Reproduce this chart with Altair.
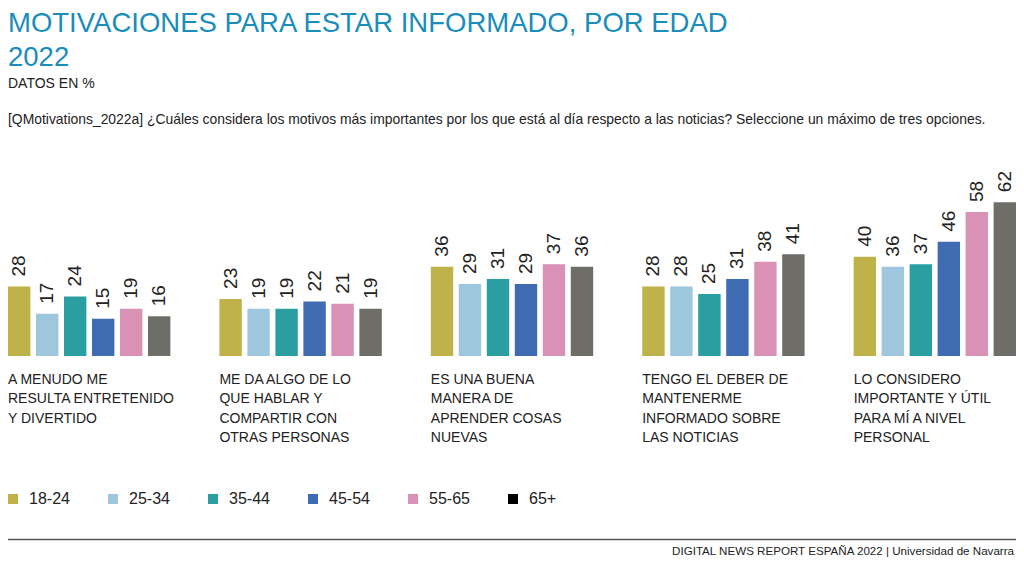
import altair as alt
import pandas as pd

TITLE_1 = "MOTIVACIONES PARA ESTAR INFORMADO, POR EDAD"
TITLE_2 = "2022"
UNITS = "DATOS EN %"
QUESTION = ("[QMotivations_2022a] ¿Cuáles considera los motivos más importantes por los que está "
            "al día respecto a las noticias? Seleccione un máximo de tres opciones.")
SOURCE = "DIGITAL NEWS REPORT ESPAÑA 2022 | Universidad de Navarra"

cat_ids = ["c1", "c2", "c3", "c4", "c5"]
cat_labels = [
    "A MENUDO ME\nRESULTA ENTRETENIDO\nY DIVERTIDO",
    "ME DA ALGO DE LO\nQUE HABLAR Y\nCOMPARTIR CON\nOTRAS PERSONAS",
    "ES UNA BUENA\nMANERA DE\nAPRENDER COSAS\nNUEVAS",
    "TENGO EL DEBER DE\nMANTENERME\nINFORMADO SOBRE\nLAS NOTICIAS",
    "LO CONSIDERO\nIMPORTANTE Y ÚTIL\nPARA MÍ A NIVEL\nPERSONAL",
]

ages = ["18-24", "25-34", "35-44", "45-54", "55-65", "65+"]
v_18_24 = [28, 23, 36, 28, 40]
v_25_34 = [17, 19, 29, 28, 36]
v_35_44 = [24, 19, 31, 25, 37]
v_45_54 = [15, 22, 29, 31, 46]
v_55_65 = [19, 21, 37, 38, 58]
v_65 = [16, 19, 36, 41, 62]
series = [v_18_24, v_25_34, v_35_44, v_45_54, v_55_65, v_65]

bar_colors = ["#bfb24b", "#9ec6dd", "#2b9ea1", "#3e6bb1", "#d991b6", "#6e6d67"]
legend_colors = ["#bfb24b", "#9ec6dd", "#2b9ea1", "#3e6bb1", "#d991b6", "#000000"]

rows = []
for age, vals in zip(ages, series):
    for c, v in zip(cat_ids, vals):
        rows.append({"cat": c, "age": age, "value": v})
df = pd.DataFrame(rows)
df_cat = pd.DataFrame({"cat": cat_ids, "label": cat_labels})
df_leg = pd.DataFrame({"age": ages})
df_one = pd.DataFrame({"k": [0]})

REG = "Liberation Sans, Arial, sans-serif"
TXT = "#222222"
BLUE = "#1a8dbb"

W, H = 1008, 559
x_scale = alt.Scale(domain=cat_ids, paddingInner=0.232, paddingOuter=0)
y_scale = alt.Scale(domain=[-85.1, 140.3], nice=False, zero=False)
off_scale = alt.Scale(domain=ages, paddingInner=0.2, paddingOuter=0)

bars = alt.Chart(df).mark_bar().encode(
    x=alt.X("cat:N", scale=x_scale, axis=None, sort=cat_ids),
    xOffset=alt.XOffset("age:N", scale=off_scale, sort=ages),
    y=alt.Y("value:Q", scale=y_scale, axis=None),
    y2=alt.datum(0),
    color=alt.Color("age:N", scale=alt.Scale(domain=ages, range=bar_colors), legend=None),
)

vals = alt.Chart(df).mark_text(
    angle=270, align="left", baseline="middle", dx=10, fontSize=19, font=REG, color=TXT
).encode(
    x=alt.X("cat:N", scale=x_scale, axis=None, sort=cat_ids),
    xOffset=alt.XOffset("age:N", scale=off_scale, sort=ages),
    y=alt.Y("value:Q", scale=y_scale, axis=None),
    text=alt.Text("value:Q"),
)

cats = alt.Chart(df_cat).mark_text(
    align="left", baseline="top", dy=17, lineBreak="\n", lineHeight=19.5,
    fontSize=14, font=REG, color=TXT
).encode(
    x=alt.X("cat:N", scale=x_scale, axis=None, sort=cat_ids, bandPosition=0),
    y=alt.datum(0),
    text="label:N",
)


def label(text, x, y, size, color=TXT, font=REG, align="left"):
    return alt.Chart(df_one).mark_text(
        text=text, align=align, baseline="alphabetic", fontSize=size, font=font, color=color
    ).encode(x=alt.value(x), y=alt.value(y))


titles = [
    label(TITLE_1, 0, 24, 27.5, BLUE),
    label(TITLE_2, 0, 58, 27.5, BLUE),
    label(UNITS, 0, 80, 14, TXT),
    label(QUESTION, 0, 116, 13.9, TXT),
    label(SOURCE, 1006, 547, 11.6, TXT, align="right"),
]

rule = alt.Chart(df_one).mark_rule(color="#555555", strokeWidth=1.5).encode(
    x=alt.value(0), x2=alt.value(W), y=alt.value(531.5)
)

legend_layer = alt.Chart(df_leg).mark_square(opacity=0).encode(
    x=alt.value(0),
    y=alt.value(0),
    color=alt.Color(
        "age:N",
        scale=alt.Scale(domain=ages, range=legend_colors),
        legend=alt.Legend(
            title=None, orient="none", legendX=-3, legendY=483, direction="horizontal",
            columns=6, symbolType="square", symbolSize=100, symbolOpacity=1,
            symbolStrokeWidth=0, labelFont=REG, labelFontSize=16, labelColor=TXT,
            labelOffset=8, columnPadding=35, padding=0,
        ),
    ),
)

chart = (
    alt.layer(bars, vals, cats, rule, legend_layer, *titles)
    .resolve_scale(color="independent")
    .properties(width=W, height=H, autosize=alt.AutoSizeParams(type="none"), padding=0,
                background="white")
    .configure_view(stroke=None)
)

chart.save("out.html", embed_options={"renderer": "svg", "actions": False})
